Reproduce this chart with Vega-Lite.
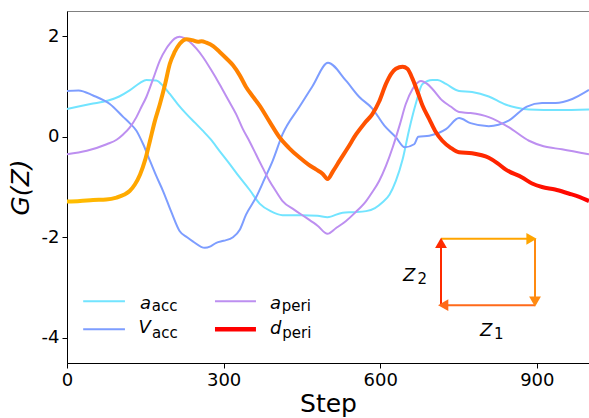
{
  "$schema": "https://vega.github.io/schema/vega-lite/v6.json",
  "autosize": "none",
  "width": 522,
  "height": 352,
  "padding": {"left": 67, "top": 11, "right": 0, "bottom": 55},
  "background": "white",
  "config": {
    "font": "DejaVu Sans",
    "view": {"stroke": "#808080", "strokeWidth": 1},
    "axis": {"grid": false, "labelColor": "black", "titleColor": "black", "tickColor": "black", "domainColor": "black", "labelFontSize": 18, "titleFontSize": 25, "titleFontWeight": "normal", "tickSize": 5, "labelPadding": 3, "labelFlush": false, "labelFont": "DejaVu Sans", "titleFont": "DejaVu Sans"}
  },
  "datasets": {
    "lines": [
      {"series": "a_acc", "step": 0, "value": 0.55}, {"series": "a_acc", "step": 22, "value": 0.6}, {"series": "a_acc", "step": 45, "value": 0.65}, {"series": "a_acc", "step": 79, "value": 0.72}, {"series": "a_acc", "step": 100, "value": 0.8}, {"series": "a_acc", "step": 120, "value": 0.92}, {"series": "a_acc", "step": 140, "value": 1.07}, {"series": "a_acc", "step": 152, "value": 1.13}, {"series": "a_acc", "step": 171, "value": 1.12}, {"series": "a_acc", "step": 185, "value": 1.0}, {"series": "a_acc", "step": 197, "value": 0.85}, {"series": "a_acc", "step": 212, "value": 0.65}, {"series": "a_acc", "step": 229, "value": 0.45}, {"series": "a_acc", "step": 245, "value": 0.28}, {"series": "a_acc", "step": 260, "value": 0.12}, {"series": "a_acc", "step": 275, "value": -0.05}, {"series": "a_acc", "step": 292, "value": -0.28}, {"series": "a_acc", "step": 310, "value": -0.52}, {"series": "a_acc", "step": 331, "value": -0.81}, {"series": "a_acc", "step": 350, "value": -1.06}, {"series": "a_acc", "step": 369, "value": -1.33}, {"series": "a_acc", "step": 390, "value": -1.48}, {"series": "a_acc", "step": 413, "value": -1.56}, {"series": "a_acc", "step": 450, "value": -1.56}, {"series": "a_acc", "step": 480, "value": -1.57}, {"series": "a_acc", "step": 499, "value": -1.6}, {"series": "a_acc", "step": 528, "value": -1.51}, {"series": "a_acc", "step": 550, "value": -1.5}, {"series": "a_acc", "step": 573, "value": -1.48}, {"series": "a_acc", "step": 590, "value": -1.42}, {"series": "a_acc", "step": 604, "value": -1.31}, {"series": "a_acc", "step": 618, "value": -1.15}, {"series": "a_acc", "step": 630, "value": -0.88}, {"series": "a_acc", "step": 643, "value": -0.45}, {"series": "a_acc", "step": 655, "value": 0.12}, {"series": "a_acc", "step": 668, "value": 0.65}, {"series": "a_acc", "step": 681, "value": 1.05}, {"series": "a_acc", "step": 700, "value": 1.13}, {"series": "a_acc", "step": 710, "value": 1.13}, {"series": "a_acc", "step": 726, "value": 1.05}, {"series": "a_acc", "step": 751, "value": 0.91}, {"series": "a_acc", "step": 776, "value": 0.89}, {"series": "a_acc", "step": 808, "value": 0.8}, {"series": "a_acc", "step": 840, "value": 0.64}, {"series": "a_acc", "step": 860, "value": 0.58}, {"series": "a_acc", "step": 885, "value": 0.54}, {"series": "a_acc", "step": 942, "value": 0.53}, {"series": "a_acc", "step": 1000, "value": 0.54},
      {"series": "V_acc", "step": 0, "value": 0.91}, {"series": "V_acc", "step": 22, "value": 0.92}, {"series": "V_acc", "step": 50, "value": 0.82}, {"series": "V_acc", "step": 82, "value": 0.65}, {"series": "V_acc", "step": 108, "value": 0.39}, {"series": "V_acc", "step": 120, "value": 0.27}, {"series": "V_acc", "step": 133, "value": 0.12}, {"series": "V_acc", "step": 146, "value": -0.15}, {"series": "V_acc", "step": 159, "value": -0.48}, {"series": "V_acc", "step": 171, "value": -0.78}, {"series": "V_acc", "step": 184, "value": -1.08}, {"series": "V_acc", "step": 200, "value": -1.5}, {"series": "V_acc", "step": 216, "value": -1.88}, {"series": "V_acc", "step": 230, "value": -2.0}, {"series": "V_acc", "step": 241, "value": -2.08}, {"series": "V_acc", "step": 264, "value": -2.21}, {"series": "V_acc", "step": 275, "value": -2.18}, {"series": "V_acc", "step": 286, "value": -2.11}, {"series": "V_acc", "step": 300, "value": -2.07}, {"series": "V_acc", "step": 318, "value": -2.0}, {"series": "V_acc", "step": 331, "value": -1.85}, {"series": "V_acc", "step": 343, "value": -1.55}, {"series": "V_acc", "step": 362, "value": -1.21}, {"series": "V_acc", "step": 378, "value": -0.85}, {"series": "V_acc", "step": 394, "value": -0.48}, {"series": "V_acc", "step": 413, "value": 0.05}, {"series": "V_acc", "step": 445, "value": 0.59}, {"series": "V_acc", "step": 470, "value": 1.0}, {"series": "V_acc", "step": 500, "value": 1.47}, {"series": "V_acc", "step": 534, "value": 1.12}, {"series": "V_acc", "step": 560, "value": 0.79}, {"series": "V_acc", "step": 585, "value": 0.56}, {"series": "V_acc", "step": 608, "value": 0.22}, {"series": "V_acc", "step": 630, "value": -0.01}, {"series": "V_acc", "step": 647, "value": -0.21}, {"series": "V_acc", "step": 665, "value": -0.15}, {"series": "V_acc", "step": 673, "value": 0.0}, {"series": "V_acc", "step": 694, "value": 0.02}, {"series": "V_acc", "step": 726, "value": 0.15}, {"series": "V_acc", "step": 751, "value": 0.37}, {"series": "V_acc", "step": 773, "value": 0.27}, {"series": "V_acc", "step": 808, "value": 0.21}, {"series": "V_acc", "step": 846, "value": 0.32}, {"series": "V_acc", "step": 881, "value": 0.6}, {"series": "V_acc", "step": 910, "value": 0.67}, {"series": "V_acc", "step": 936, "value": 0.67}, {"series": "V_acc", "step": 968, "value": 0.75}, {"series": "V_acc", "step": 1000, "value": 0.93},
      {"series": "a_peri", "step": 0, "value": -0.35}, {"series": "a_peri", "step": 38, "value": -0.28}, {"series": "a_peri", "step": 76, "value": -0.15}, {"series": "a_peri", "step": 95, "value": -0.06}, {"series": "a_peri", "step": 108, "value": 0.05}, {"series": "a_peri", "step": 120, "value": 0.18}, {"series": "a_peri", "step": 133, "value": 0.39}, {"series": "a_peri", "step": 142, "value": 0.58}, {"series": "a_peri", "step": 152, "value": 0.79}, {"series": "a_peri", "step": 165, "value": 1.15}, {"series": "a_peri", "step": 178, "value": 1.52}, {"series": "a_peri", "step": 190, "value": 1.75}, {"series": "a_peri", "step": 197, "value": 1.85}, {"series": "a_peri", "step": 206, "value": 1.95}, {"series": "a_peri", "step": 216, "value": 1.99}, {"series": "a_peri", "step": 225, "value": 1.96}, {"series": "a_peri", "step": 235, "value": 1.89}, {"series": "a_peri", "step": 248, "value": 1.75}, {"series": "a_peri", "step": 260, "value": 1.59}, {"series": "a_peri", "step": 276, "value": 1.33}, {"series": "a_peri", "step": 292, "value": 1.05}, {"series": "a_peri", "step": 308, "value": 0.75}, {"series": "a_peri", "step": 324, "value": 0.45}, {"series": "a_peri", "step": 337, "value": 0.15}, {"series": "a_peri", "step": 350, "value": -0.1}, {"series": "a_peri", "step": 362, "value": -0.35}, {"series": "a_peri", "step": 375, "value": -0.62}, {"series": "a_peri", "step": 388, "value": -0.88}, {"series": "a_peri", "step": 400, "value": -1.08}, {"series": "a_peri", "step": 413, "value": -1.28}, {"series": "a_peri", "step": 435, "value": -1.45}, {"series": "a_peri", "step": 458, "value": -1.61}, {"series": "a_peri", "step": 480, "value": -1.77}, {"series": "a_peri", "step": 499, "value": -1.93}, {"series": "a_peri", "step": 515, "value": -1.82}, {"series": "a_peri", "step": 534, "value": -1.68}, {"series": "a_peri", "step": 553, "value": -1.5}, {"series": "a_peri", "step": 573, "value": -1.28}, {"series": "a_peri", "step": 585, "value": -1.1}, {"series": "a_peri", "step": 598, "value": -0.88}, {"series": "a_peri", "step": 611, "value": -0.58}, {"series": "a_peri", "step": 624, "value": -0.21}, {"series": "a_peri", "step": 637, "value": 0.22}, {"series": "a_peri", "step": 649, "value": 0.65}, {"series": "a_peri", "step": 662, "value": 0.95}, {"series": "a_peri", "step": 678, "value": 1.11}, {"series": "a_peri", "step": 690, "value": 1.05}, {"series": "a_peri", "step": 700, "value": 0.95}, {"series": "a_peri", "step": 719, "value": 0.72}, {"series": "a_peri", "step": 735, "value": 0.6}, {"series": "a_peri", "step": 751, "value": 0.49}, {"series": "a_peri", "step": 773, "value": 0.47}, {"series": "a_peri", "step": 808, "value": 0.39}, {"series": "a_peri", "step": 846, "value": 0.19}, {"series": "a_peri", "step": 885, "value": -0.08}, {"series": "a_peri", "step": 913, "value": -0.19}, {"series": "a_peri", "step": 948, "value": -0.25}, {"series": "a_peri", "step": 1000, "value": -0.35}
    ],
    "dperi": [
      {"step": 0, "value": -1.29}, {"step": 25, "value": -1.28}, {"step": 50, "value": -1.26}, {"step": 75, "value": -1.25}, {"step": 95, "value": -1.21}, {"step": 110, "value": -1.15}, {"step": 120, "value": -1.08}, {"step": 130, "value": -0.95}, {"step": 140, "value": -0.75}, {"step": 150, "value": -0.45}, {"step": 159, "value": -0.08}, {"step": 168, "value": 0.3}, {"step": 178, "value": 0.65}, {"step": 188, "value": 1.05}, {"step": 197, "value": 1.45}, {"step": 206, "value": 1.68}, {"step": 216, "value": 1.85}, {"step": 229, "value": 1.94}, {"step": 240, "value": 1.92}, {"step": 251, "value": 1.89}, {"step": 258, "value": 1.9}, {"step": 267, "value": 1.87}, {"step": 280, "value": 1.8}, {"step": 292, "value": 1.69}, {"step": 305, "value": 1.56}, {"step": 318, "value": 1.42}, {"step": 331, "value": 1.22}, {"step": 343, "value": 0.99}, {"step": 356, "value": 0.8}, {"step": 369, "value": 0.62}, {"step": 388, "value": 0.3}, {"step": 407, "value": -0.01}, {"step": 425, "value": -0.22}, {"step": 445, "value": -0.41}, {"step": 462, "value": -0.55}, {"step": 477, "value": -0.65}, {"step": 490, "value": -0.74}, {"step": 499, "value": -0.84}, {"step": 510, "value": -0.68}, {"step": 522, "value": -0.48}, {"step": 538, "value": -0.22}, {"step": 554, "value": 0.05}, {"step": 570, "value": 0.27}, {"step": 585, "value": 0.45}, {"step": 598, "value": 0.7}, {"step": 611, "value": 1.05}, {"step": 621, "value": 1.25}, {"step": 630, "value": 1.35}, {"step": 643, "value": 1.39}, {"step": 652, "value": 1.35}, {"step": 662, "value": 1.15}, {"step": 672, "value": 0.88}, {"step": 681, "value": 0.62}, {"step": 694, "value": 0.35}, {"step": 705, "value": 0.12}, {"step": 719, "value": -0.08}, {"step": 735, "value": -0.22}, {"step": 751, "value": -0.31}, {"step": 776, "value": -0.33}, {"step": 808, "value": -0.42}, {"step": 825, "value": -0.53}, {"step": 840, "value": -0.65}, {"step": 872, "value": -0.81}, {"step": 891, "value": -0.93}, {"step": 910, "value": -1.0}, {"step": 935, "value": -1.05}, {"step": 961, "value": -1.13}, {"step": 980, "value": -1.19}, {"step": 1000, "value": -1.28}
    ],
    "legend": [
      {"series": "a_acc", "x1": 31, "x2": 111, "y": -3.27},
      {"series": "V_acc", "x1": 31, "x2": 111, "y": -3.83},
      {"series": "a_peri", "x1": 283.5, "x2": 362, "y": -3.27},
      {"series": "d_peri", "x1": 283.5, "x2": 362, "y": -3.83}
    ],
    "texts": [
      {"t": "a", "kind": "main", "x": 139.8, "y": -3.426},
      {"t": "acc", "kind": "sub", "x": 162.5, "y": -3.466},
      {"t": "V", "kind": "main", "x": 137, "y": -3.903},
      {"t": "acc", "kind": "sub", "x": 163, "y": -3.993},
      {"t": "a", "kind": "main", "x": 388.9, "y": -3.426},
      {"t": "peri", "kind": "sub", "x": 411.5, "y": -3.466},
      {"t": "d", "kind": "main", "x": 388.9, "y": -3.923},
      {"t": "peri", "kind": "sub", "x": 412.5, "y": -4.003},
      {"t": "Z", "kind": "main", "x": 643.7, "y": -2.869},
      {"t": "2", "kind": "sub", "x": 671.5, "y": -2.929},
      {"t": "Z", "kind": "main", "x": 791.2, "y": -3.963},
      {"t": "1", "kind": "sub", "x": 818, "y": -4.023}
    ],
    "arrows": [
      {"seg": "up", "x": 716.5, "y": -3.35, "x2": 716.5, "y2": -2.1, "hx": 716.5, "hy": -2.11},
      {"seg": "right", "x": 716.5, "y": -2.03, "x2": 885, "y2": -2.03, "hx": 889.9, "hy": -2.03},
      {"seg": "down", "x": 896.6, "y": -2.03, "x2": 896.6, "y2": -3.25, "hx": 896.6, "hy": -3.28},
      {"seg": "left", "x": 896.6, "y": -3.35, "x2": 725, "y2": -3.35, "hx": 720.7, "hy": -3.35}
    ]
  },
  "layer": [
    {
      "data": {"name": "lines"},
      "mark": {"type": "line", "strokeWidth": 2, "interpolate": "monotone"},
      "encoding": {
        "x": {"field": "step", "type": "quantitative", "scale": {"domain": [0, 1000], "nice": false, "zero": false},
              "axis": {"title": "Step", "values": [0, 300, 600, 900], "titlePadding": 2}},
        "y": {"field": "value", "type": "quantitative", "scale": {"domain": [-4.5, 2.5], "nice": false, "zero": false},
              "axis": {"title": "G(Z)", "titleFontStyle": "italic", "values": [-4, -2, 0, 2], "labelExpr": "'' + datum.value", "titlePadding": 8}},
        "color": {"field": "series", "type": "nominal", "legend": null,
                  "scale": {"domain": ["a_acc", "V_acc", "a_peri", "d_peri", "up", "right", "down", "left"],
                            "range": ["#72e4ff", "#7d9dff", "#bd8ff0", "#ff0000", "#ff2a00", "#ffa500", "#ff8a10", "#ff6a1a"]}},
        "detail": {"field": "series"}
      }
    },
    {
      "data": {"name": "dperi"},
      "mark": {"type": "line", "strokeWidth": 4, "interpolate": "monotone",
               "color": {"gradient": "linear", "x1": 0, "y1": 0, "x2": 1, "y2": 0,
                         "stops": [{"offset": 0, "color": "#ffc000"}, {"offset": 1, "color": "#ff0000"}]}},
      "encoding": {
        "x": {"field": "step", "type": "quantitative"},
        "y": {"field": "value", "type": "quantitative"}
      }
    },
    {
      "data": {"name": "legend"},
      "transform": [{"filter": "datum.series !== 'd_peri'"}],
      "mark": {"type": "rule", "strokeWidth": 2},
      "encoding": {
        "x": {"field": "x1", "type": "quantitative"},
        "x2": {"field": "x2"},
        "y": {"field": "y", "type": "quantitative"},
        "color": {"field": "series", "type": "nominal", "legend": null}
      }
    },
    {
      "data": {"name": "legend"},
      "transform": [{"filter": "datum.series === 'd_peri'"}],
      "mark": {"type": "rule", "strokeWidth": 4.5},
      "encoding": {
        "x": {"field": "x1", "type": "quantitative"},
        "x2": {"field": "x2"},
        "y": {"field": "y", "type": "quantitative"},
        "color": {"field": "series", "type": "nominal", "legend": null}
      }
    },
    {
      "data": {"name": "texts"},
      "transform": [{"filter": "datum.kind === 'main'"}],
      "mark": {"type": "text", "fontSize": 18, "fontStyle": "italic", "align": "left", "baseline": "alphabetic", "color": "black"},
      "encoding": {
        "x": {"field": "x", "type": "quantitative"},
        "y": {"field": "y", "type": "quantitative"},
        "text": {"field": "t"}
      }
    },
    {
      "data": {"name": "texts"},
      "transform": [{"filter": "datum.kind === 'sub'"}],
      "mark": {"type": "text", "fontSize": 15, "align": "left", "baseline": "alphabetic", "color": "black"},
      "encoding": {
        "x": {"field": "x", "type": "quantitative"},
        "y": {"field": "y", "type": "quantitative"},
        "text": {"field": "t"}
      }
    },
    {
      "data": {"name": "arrows"},
      "mark": {"type": "rule", "strokeWidth": 2},
      "encoding": {
        "x": {"field": "x", "type": "quantitative"},
        "y": {"field": "y", "type": "quantitative"},
        "x2": {"field": "x2"},
        "y2": {"field": "y2"},
        "color": {"field": "seg", "type": "nominal", "legend": null}
      }
    },
    {
      "data": {"name": "arrows"},
      "mark": {"type": "point", "filled": true, "size": 140, "opacity": 1, "strokeWidth": 0},
      "encoding": {
        "x": {"field": "hx", "type": "quantitative"},
        "y": {"field": "hy", "type": "quantitative"},
        "color": {"field": "seg", "type": "nominal", "legend": null},
        "shape": {"field": "seg", "type": "nominal", "legend": null,
                  "scale": {"domain": ["up", "right", "down", "left"], "range": ["triangle-up", "triangle-right", "triangle-down", "triangle-left"]}}
      }
    }
  ]
}
